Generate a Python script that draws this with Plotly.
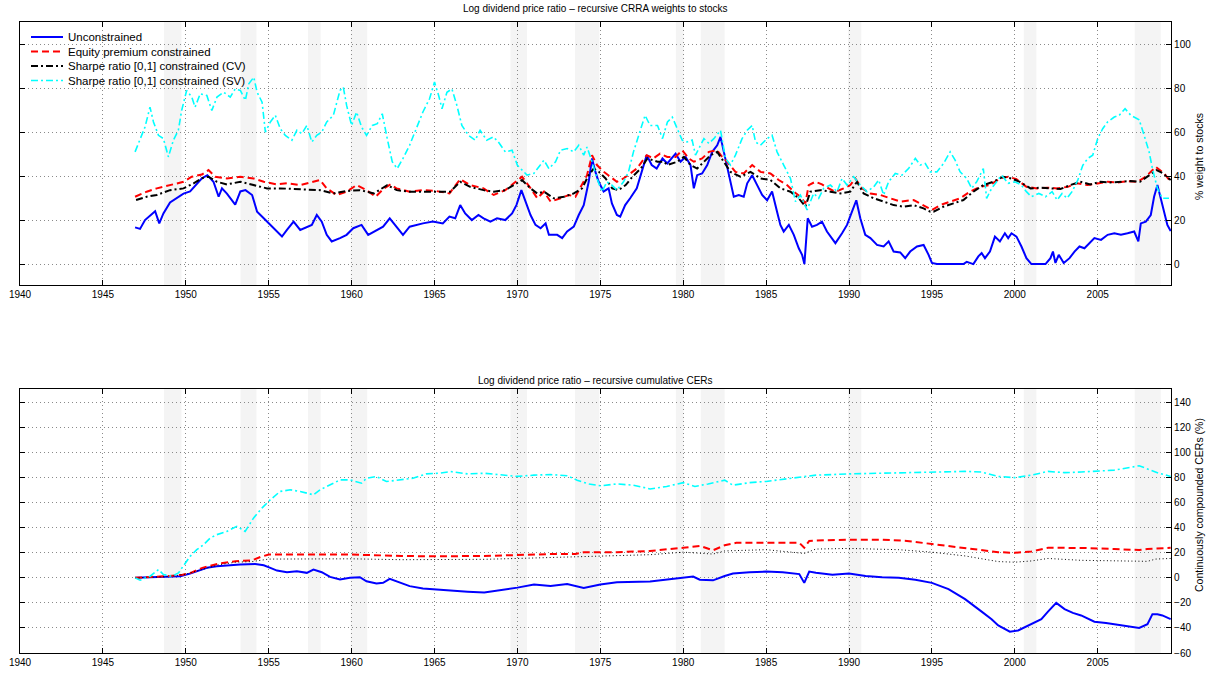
import plotly.graph_objects as go

# ---- top panel: recursive CRRA weights to stocks (%) ----
u_year = [1946.94, 1947.24, 1947.54, 1947.84, 1948.15, 1948.4, 1948.65, 1949.05, 1949.45, 1949.86,
          1950.26, 1950.5, 1950.97, 1951.3, 1951.67, 1951.98, 1952.18, 1952.48, 1952.98, 1953.29,
          1953.6, 1954.0, 1954.3, 1954.7, 1955.1, 1955.5, 1955.8, 1956.1, 1956.5, 1956.9,
          1957.3, 1957.6, 1957.9, 1958.2, 1958.5, 1958.8, 1959.3, 1959.7, 1960.1, 1960.6,
          1961.0, 1961.5, 1961.9, 1962.3, 1962.7, 1963.1, 1963.5, 1963.9, 1964.3, 1964.9,
          1965.5, 1965.9, 1966.25, 1966.55, 1966.85, 1967.25, 1967.65, 1967.96, 1968.37, 1968.77,
          1969.27, 1969.68, 1969.94, 1970.24, 1970.48, 1970.79, 1971.09, 1971.4, 1971.7, 1971.9,
          1972.4, 1972.7, 1973.0, 1973.4, 1973.7, 1974.0, 1974.3, 1974.5, 1974.7, 1974.9,
          1975.2, 1975.5, 1975.7, 1976.0, 1976.2, 1976.5, 1976.8, 1977.2, 1977.5, 1977.8,
          1978.1, 1978.4, 1978.75, 1979.04, 1979.54, 1979.84, 1980.14, 1980.44, 1980.64, 1980.84,
          1981.14, 1981.45, 1981.75, 1982.05, 1982.25, 1982.55, 1982.85, 1983.05, 1983.35, 1983.65,
          1983.86, 1984.16, 1984.46, 1984.76, 1985.06, 1985.36, 1985.66, 1985.86, 1986.06, 1986.37,
          1986.67, 1986.97, 1987.17, 1987.31, 1987.51, 1987.77, 1988.07, 1988.37, 1988.67, 1989.18,
          1989.58, 1989.88, 1990.18, 1990.44, 1990.68, 1990.98, 1991.29, 1991.69, 1992.09, 1992.39,
          1992.69, 1993.09, 1993.39, 1993.69, 1994.1, 1994.5, 1994.8, 1995.0, 1995.3, 1996.9,
          1997.1, 1997.5, 1997.8, 1998.0, 1998.2, 1998.5, 1998.8, 1999.1, 1999.4, 1999.6,
          1999.8, 2000.1, 2000.4, 2000.7, 2001.0, 2001.85, 2002.15, 2002.3, 2002.45, 2002.65,
          2002.95, 2003.3, 2003.6, 2003.9, 2004.2, 2004.5, 2004.8, 2005.2, 2005.6, 2006.0,
          2006.4, 2006.8, 2007.2, 2007.45, 2007.6, 2007.9, 2008.2, 2008.4, 2008.6, 2008.8,
          2009.0, 2009.2, 2009.4]
u_w = [16.7, 16, 20, 22, 24, 18.5, 23, 28, 30, 32,
       33, 35, 39, 40.4, 37.4, 30.6, 34.4, 32, 27, 33,
       33.6, 31.4, 23.8, 20.8, 17.8, 14.8, 12.5, 15.5, 19.3, 15.5,
       17, 17.8, 22.3, 19.3, 13.3, 10.3, 11.8, 13.3, 16.3, 17.8,
       13.3, 15.5, 17, 20.8, 17, 13.3, 17, 17.8, 18.5, 19.3,
       18.5, 21.6, 20.8, 26.8, 23, 20, 22.3, 20.8, 19.3, 20.8,
       20, 23, 26.8, 33.6, 29, 22.3, 17.8, 16.3, 18.5, 13.3,
       13.3, 11.8, 14.8, 17, 22.3, 26.8, 37.4, 48, 42, 37.4,
       33, 34.4, 27.6, 22.3, 21.6, 26.8, 29.9, 34.4, 42, 49.5,
       45, 43.4, 48, 45.7, 50.2, 46.5, 48.7, 45, 34.4, 40.4,
       41.2, 45, 51, 54, 57.8, 48, 37.4, 30.6, 31.4, 30.6,
       36.7, 40.4, 35.9, 31.4, 29, 33, 23.8, 17.8, 14.8, 17.8,
       13.3, 7.2, 4.2, 0, 20.8, 17, 17.8, 19.3, 14.8, 9.5,
       14, 17.8, 23.8, 29, 20.8, 13.3, 11.8, 8.7, 8, 10.3,
       5.7, 5.3, 2.7, 5.7, 8, 8.7, 4.2, 0.5, 0, 0,
       1, 0, 3.5, 5, 2.7, 5.7, 12.5, 10.3, 14, 11.8,
       14, 12.5, 8, 2.7, 0, 0, 2.7, 5.7, 0.5, 4.2,
       0.5, 2.7, 5.7, 8, 7.2, 9.5, 11.8, 11, 13.3, 14,
       13.3, 14, 14.8, 10.3, 18.5, 19.3, 22.3, 30.6, 35.9, 29.9,
       23.8, 17.8, 15]

ep_year = [1946.94, 1947.64, 1948.25, 1949.05, 1949.86, 1950.36, 1950.97, 1951.37, 1951.77, 1952.48,
           1953.29, 1954.09, 1954.7, 1955.5, 1956.1, 1956.9, 1957.7, 1958.1, 1958.5, 1959.1,
           1959.7, 1960.3, 1960.9, 1961.45, 1961.95, 1962.35, 1962.7, 1963.5, 1964.3, 1965.1,
           1965.9, 1966.55, 1967.15, 1967.96, 1968.57, 1969.27, 1969.78, 1970.28, 1970.8, 1971.2,
           1971.6, 1972.0, 1972.6, 1973.1, 1973.5, 1973.9, 1974.2, 1974.5, 1974.8, 1975.2,
           1975.6, 1976.0, 1976.4, 1976.8, 1977.2, 1977.8, 1978.2, 1978.6, 1979.04, 1979.54,
           1979.94, 1980.34, 1980.64, 1981.14, 1981.55, 1982.05, 1982.35, 1982.65, 1983.15, 1983.65,
           1984.16, 1984.66, 1985.26, 1985.76, 1986.26, 1986.67, 1987.07, 1987.37, 1987.57, 1987.97,
           1988.37, 1988.77, 1989.18, 1989.68, 1990.08, 1990.38, 1990.78, 1991.29, 1991.89, 1992.49,
           1993.09, 1993.9, 1994.5, 1995.0, 1995.5, 1996.1, 1996.7, 1997.3, 1997.9, 1998.5,
           1999.1, 1999.6, 2000.1, 2000.7, 2001.35, 2001.95, 2002.55, 2003.2, 2003.75, 2004.4,
           2005.0, 2005.6, 2006.2, 2006.8, 2007.4, 2007.9, 2008.5, 2009.0, 2009.4]
ep_w = [30.6, 32.9, 34.4, 35.9, 37.4, 39.7, 40.7, 42.7, 39.7, 38.9,
        39.7, 38.9, 37.4, 36.2, 36.7, 35.9, 37.4, 38.2, 34.4, 31.4,
        32.9, 35.9, 33.6, 30.6, 34.4, 36.2, 34.4, 32.9, 33.6, 33.2,
        32.1, 38.6, 35.9, 34.4, 31.4, 33.6, 36.7, 39.7, 34.4, 29.9,
        32.9, 28.4, 29.9, 31.4, 30.6, 35.9, 40.4, 49.5, 45, 42,
        39.7, 37.4, 38.9, 41.2, 43.4, 49.5, 48, 50.2, 48.7, 48.7,
        51.7, 48, 46.5, 48, 51, 51.7, 48.7, 46.5, 41.9, 41.2,
        45, 41.9, 41.2, 38.2, 35.9, 32.9, 30.6, 27.6, 35.9, 37.4,
        36.2, 34.4, 32.9, 34.4, 35.9, 38.9, 34.4, 32.1, 31.4, 29.9,
        28.4, 29.1, 26.8, 24.6, 26.8, 28.4, 29.9, 32.9, 35.1, 35.9,
        38.9, 39.7, 38.6, 35.1, 34.4, 34.7, 34.4, 35.1, 36.7, 35.9,
        36.7, 37.4, 37.1, 37.7, 37.4, 39.7, 44.2, 41.2, 37.4]

cv_year = [1947.0, 1947.64, 1948.25, 1949.05, 1949.86, 1950.47, 1950.97, 1951.37, 1951.88, 1952.48,
           1953.29, 1954.09, 1954.9, 1955.7, 1956.5, 1957.3, 1958.1, 1958.9, 1959.7, 1960.5,
           1961.35, 1962.15, 1962.72, 1963.5, 1964.3, 1965.14, 1965.95, 1966.55, 1967.15, 1967.96,
           1968.57, 1969.27, 1969.78, 1970.28, 1970.79, 1971.19, 1971.6, 1972.2, 1972.8, 1973.4,
           1973.9, 1974.3, 1974.6, 1974.9, 1975.32, 1975.72, 1976.1, 1976.53, 1976.94, 1977.44,
           1977.84, 1978.45, 1978.85, 1979.04, 1979.64, 1980.04, 1980.44, 1980.84, 1981.25, 1981.65,
           1982.05, 1982.45, 1982.85, 1983.45, 1984.06, 1984.66, 1985.26, 1985.86, 1986.47, 1986.97,
           1987.37, 1987.67, 1988.27, 1988.88, 1989.48, 1990.08, 1990.48, 1990.88, 1991.49, 1992.09,
           1992.69, 1993.29, 1993.9, 1994.5, 1994.9, 1995.1, 1995.7, 1996.3, 1996.9, 1997.5,
           1998.1, 1998.7, 1999.3, 1999.8, 2000.3, 2000.95, 2001.55, 2002.15, 2002.75, 2003.35,
           2003.95, 2004.55, 2005.15, 2005.75, 2006.35, 2006.95, 2007.55, 2008.15, 2008.55, 2008.95,
           2009.4]
cv_w = [29.1, 30.6, 31.4, 33.6, 34.4, 36.7, 39.0, 39.7, 37.4, 36.2,
        37.4, 35.9, 34.4, 34.4, 34.1, 33.6, 33.6, 32.1, 33.2, 33.6,
        32.1, 35.9, 33.6, 32.9, 32.9, 32.9, 32.9, 37.4, 35.1, 33.6,
        32.9, 33.6, 35.9, 38.2, 34.4, 32.1, 32.9, 29.9, 30.6, 32.1,
        34.4, 40.4, 43.4, 42.0, 38.9, 34.4, 33.6, 35.9, 39.7, 43.4,
        48.0, 46.5, 46.5, 45.0, 46.5, 48.7, 45.0, 43.4, 46.5, 49.5,
        51.0, 46.5, 41.9, 39.7, 41.9, 38.9, 38.2, 34.4, 32.9, 29.9,
        26.1, 32.9, 33.6, 32.9, 32.1, 32.9, 37.4, 32.1, 29.9, 28.4,
        26.8, 26.1, 26.8, 25.3, 23.8, 23.8, 26.1, 27.6, 29.1, 32.9,
        35.9, 37.4, 39.7, 38.9, 37.4, 34.4, 34.7, 34.4, 34.1, 35.9,
        37.4, 36.2, 37.4, 37.1, 37.4, 37.7, 37.4, 40.4, 42.7, 41.2,
        38.2]

sv_year = [1946.94, 1947.24, 1947.54, 1947.84, 1948.05, 1948.35, 1948.65, 1948.95, 1949.25, 1949.55,
           1949.75, 1950.05, 1950.36, 1950.56, 1950.87, 1951.27, 1951.57, 1951.88, 1952.28, 1952.68,
           1952.98, 1953.29, 1953.59, 1953.8, 1954.1, 1954.3, 1954.6, 1954.8, 1955.1, 1955.4,
           1955.7, 1956.0, 1956.4, 1956.7, 1957.0, 1957.3, 1957.6, 1957.9, 1958.2, 1958.5,
           1958.9, 1959.3, 1959.5, 1959.7, 1960.0, 1960.3, 1960.6, 1960.9, 1961.25, 1961.55,
           1961.85, 1962.15, 1962.45, 1962.75, 1963.1, 1963.5, 1963.9, 1964.3, 1964.7, 1965.0,
           1965.25, 1965.45, 1965.75, 1966.05, 1966.35, 1966.65, 1967.05, 1967.45, 1967.75, 1968.15,
           1968.55, 1968.85, 1969.27, 1969.68, 1970.0, 1970.28, 1970.58, 1970.99, 1971.39, 1971.6,
           1971.9, 1972.3, 1972.6, 1973.0, 1973.4, 1973.7, 1974.0, 1974.2, 1974.5, 1974.8,
           1975.1, 1975.4, 1975.7, 1976.0, 1976.4, 1976.7, 1977.0, 1977.3, 1977.7, 1978.0,
           1978.45, 1978.75, 1979.05, 1979.34, 1979.64, 1979.94, 1980.24, 1980.54, 1980.74, 1980.94,
           1981.25, 1981.55, 1981.85, 1982.25, 1982.55, 1982.85, 1983.15, 1983.55, 1983.86, 1984.16,
           1984.36, 1984.66, 1985.06, 1985.36, 1985.66, 1986.06, 1986.47, 1986.77, 1987.07, 1987.47,
           1987.87, 1988.17, 1988.47, 1988.88, 1989.28, 1989.58, 1989.88, 1990.28, 1990.68, 1991.08,
           1991.49, 1991.79, 1992.09, 1992.39, 1992.79, 1993.19, 1993.59, 1994.0, 1994.3, 1994.6,
           1994.9, 1995.3, 1995.7, 1996.1, 1996.4, 1996.7, 1997.1, 1997.4, 1997.7, 1998.1,
           1998.3, 1998.6, 1998.9, 1999.2, 1999.6, 2000.0, 2000.4, 2000.7, 2001.0, 2001.45,
           2001.85, 2002.25, 2002.55, 2002.85, 2003.15, 2003.45, 2003.8, 2004.1, 2004.4, 2004.7,
           2005.0, 2005.3, 2005.6, 2006.0, 2006.3, 2006.65, 2007.0, 2007.5, 2007.8, 2008.1,
           2008.3, 2008.6, 2008.9, 2009.3]
sv_w = [51, 56.3, 62.3, 71.3, 64.6, 58.5, 57, 48.7, 56.3, 60.8,
        69.8, 78.9, 75.9, 71.3, 77.4, 76.6, 69.8, 75.9, 78.1, 75.9,
        79.6, 78.9, 74.4, 81.9, 84.9, 78.1, 73.6, 60, 64.6, 67.6,
        61.5, 58.5, 56.3, 60.8, 59.3, 63, 55.5, 58.5, 60, 64.6,
        67.6, 78.9, 80.4, 72.1, 63, 69.1, 62.3, 58.5, 63, 63.8,
        68.3, 57, 46.5, 43.4, 48, 54, 61.5, 69.1, 75.1, 82.7,
        76.6, 70.6, 78.1, 79.6, 72.1, 63, 58.5, 56.3, 60.8, 56.3,
        57.8, 55.5, 51, 51.7, 44.9, 42.6, 40.4, 41.2, 44.9, 47.2,
        43.4, 46.5, 51.7, 52.5, 51, 54, 49.5, 53.2, 46.5, 38.9,
        32.9, 37.4, 35.9, 33.6, 37.4, 41.9, 51, 58.5, 67.6, 63,
        63, 57, 64.6, 66.8, 61.5, 56.3, 55.5, 56.3, 49.5, 52.5,
        57, 54.8, 57, 60.8, 48, 45, 49.5, 57, 60.8, 63,
        55.5, 54, 57, 58.5, 51, 45, 38.9, 28.4, 31.4, 24.6,
        32.1, 29.9, 34.4, 35.9, 32.9, 38.9, 35.9, 39.7, 35.9, 32.9,
        35.1, 38.2, 31.4, 37.4, 41.2, 40.4, 43.4, 48, 45, 45.7,
        41.9, 41.9, 45.7, 51, 47.2, 41.9, 38.9, 34.4, 37.4, 43.4,
        29.9, 34.4, 37.4, 40.4, 36.7, 37.4, 35.9, 32.9, 30.6, 32.1,
        30.6, 32.9, 29.1, 32.1, 29.9, 32.9, 38.2, 44.9, 48, 49.5,
        57, 61.5, 64.6, 66.8, 67.6, 70.6, 67.6, 65.6, 58.5, 51,
        43.4, 34.4, 29.9, 29.9]

# ---- bottom panel: recursive cumulative CERs (%) ----
uc_year = [1946.94, 1947.85, 1949.26, 1949.66, 1950.26, 1950.87, 1951.27, 1951.87, 1952.47, 1953.28,
           1954.19, 1954.7, 1955.1, 1955.5, 1956.1, 1956.7, 1957.3, 1957.7, 1958.2, 1958.7,
           1959.3, 1959.9, 1960.5, 1960.9, 1961.5, 1961.9, 1962.3, 1962.7, 1963.5, 1964.3,
           1965.15, 1965.96, 1967.0, 1968.0, 1969.0, 1970.0, 1971.0, 1972.0, 1973.0, 1974.0,
           1975.0, 1976.0, 1978.0, 1979.0, 1980.0, 1980.6, 1981.0, 1981.8, 1982.5, 1983.0,
           1984.0, 1985.0, 1986.0, 1987.0, 1987.3, 1987.6, 1988.0, 1989.0, 1990.0, 1991.0,
           1992.0, 1993.0, 1994.0, 1995.0, 1996.0, 1997.0, 1998.0, 1998.6, 1999.0, 1999.7,
           2000.2, 2001.0, 2001.6, 2002.0, 2002.5, 2003.0, 2003.5, 2004.0, 2004.8, 2005.5,
           2006.0, 2006.5, 2007.0, 2007.5, 2008.0, 2008.3, 2008.6, 2008.9, 2009.4]
uc_cer = [0, 0.3, 0.8, 1.3, 3.4, 5.8, 8, 9.3, 10, 10.6,
          11.1, 10, 8, 5.8, 4.5, 5.3, 4, 6.6, 4.5, 0.8,
          -1.3, 0, 0.5, -2.7, -4.5, -4, -0.8, -2.7, -6.6, -8.5,
          -9.3, -10.6, -11, -11.7, -10, -7.8, -5.3, -6.5, -5, -8,
          -5.3, -3.5, -3, -1.5, 0, 1, -1.5, -2, 1.5, 3.5,
          4.5, 5, 4.5, 3, -4, 5, 4, 2.5, 3.5, 1.5,
          0.5, 0, -1.5, -4, -9, -17, -27, -33, -38, -43,
          -42, -37, -33, -27, -20, -25, -28, -30, -35, -36,
          -37, -38, -39, -40, -37, -29, -29, -30, -33]

epc_year = [1946.94, 1948.0, 1949.0, 1949.8, 1950.3, 1951.0, 1952.0, 1953.0, 1954.0, 1954.5,
            1955.0, 1957.0, 1960.0, 1963.0, 1965.0, 1968.0, 1970.0, 1972.0, 1973.5, 1974.0,
            1976.0, 1978.0, 1980.0, 1981.0, 1981.8, 1982.5, 1983.2, 1985.0, 1987.0, 1987.3,
            1987.6, 1988.5, 1990.0, 1992.0, 1993.5, 1995.0, 1996.0, 1997.0, 1998.0, 1999.0,
            2000.0, 2001.0, 2002.0, 2003.0, 2004.0, 2006.0, 2007.5, 2008.0, 2009.1, 2009.4]
epc_cer = [0, 0.5, 1.5, 2.5, 4, 8, 11.4, 13.3, 14, 16.7,
           18.6, 18.6, 18.6, 17.5, 17.2, 17.5, 18.5, 19, 19, 20.5,
           20.5, 21.5, 24, 25.5, 22, 26, 28, 28, 28, 24,
           29.5, 30, 30.5, 30.5, 29.5, 27, 25.5, 24, 22, 20.5,
           20, 21, 24, 24, 23.9, 23, 22.3, 23, 24, 24]

cvc_year = [1946.94, 1948.0, 1949.0, 1950.0, 1951.0, 1952.0, 1953.0, 1954.0, 1955.0, 1957.0,
            1960.0, 1963.0, 1965.0, 1968.0, 1970.0, 1973.0, 1975.0, 1978.0, 1980.0, 1981.8,
            1982.5, 1985.0, 1987.3, 1988.0, 1990.0, 1993.0, 1995.0, 1997.0, 1999.0, 2000.0,
            2001.0, 2002.0, 2004.0, 2006.0, 2008.0, 2008.5, 2009.4]
cvc_cer = [0, 0.3, 1, 3, 7, 10.5, 12.5, 13, 15, 15.2,
           15.2, 14.5, 14.5, 14.8, 15.5, 16.5, 17, 18.5, 20.5, 19,
           21.5, 22.5, 19.5, 23, 23.5, 22.5, 20.5, 17.5, 13, 12.5,
           13.5, 15.5, 14, 13.5, 13.2, 15, 15.5]

svc_year = [1946.94, 1947.24, 1947.85, 1948.35, 1948.65, 1949.15, 1949.56, 1949.86, 1950.26, 1950.66,
            1951.07, 1951.47, 1951.87, 1952.47, 1953.08, 1953.58, 1954.08, 1954.59, 1955.09, 1955.69,
            1956.3, 1956.9, 1957.7, 1958.1, 1958.71, 1959.3, 1959.9, 1960.6, 1960.9, 1961.5,
            1962.1, 1962.9, 1963.7, 1964.5, 1965.35, 1965.96, 1967.0, 1968.0, 1969.0, 1970.0,
            1971.0, 1972.0, 1973.0, 1973.6, 1974.3, 1975.0, 1976.0, 1977.0, 1978.0, 1979.0,
            1980.0, 1980.7, 1981.5, 1982.5, 1983.0, 1984.0, 1985.0, 1986.0, 1987.0, 1988.0,
            1990.0, 1992.0, 1995.0, 1997.0, 1998.0, 1999.0, 2000.0, 2001.0, 2002.0, 2003.0,
            2004.0, 2005.0, 2006.0, 2007.5, 2008.0, 2008.6, 2009.4]
svc_cer = [0, -1.9, 1.3, 6.6, 2.7, 1.3, 4, 9.3, 17.2, 22.5,
           26.5, 31.8, 34.5, 37.1, 41.1, 37.1, 47.7, 55.7, 62.3, 69,
           70.3, 69, 66.3, 70.3, 74.3, 78.2, 78.2, 75.6, 79.6, 80.9,
           76.9, 78.2, 79.6, 83, 83.6, 84.9, 83, 83.5, 82.5, 81,
           82, 82.5, 81.5, 78, 75, 73.5, 75, 74, 71, 73,
           76, 73, 75, 78, 74, 76, 77, 78.5, 80, 82,
           83, 83.5, 84, 85, 84.5, 81, 80, 82, 85, 84,
           84.5, 85, 86, 89.5, 87, 84, 81]

# shaded recession periods (start, end) as drawn
rec_start = [1948.69, 1953.30, 1957.37, 1959.94, 1969.58, 1973.47, 1979.56, 1981.06, 1989.94, 2000.54, 2007.23]
rec_end = [1949.74, 1954.26, 1958.13, 1960.94, 1970.58, 1974.94, 1980.02, 1982.50, 1990.74, 2001.30, 2008.80]

names = ['Unconstrained', 'Equity premium constrained',
         'Sharpe ratio [0,1] constrained (CV)', 'Sharpe ratio [0,1] constrained (SV)']

FONT = 'Liberation Sans, Arial, Helvetica, sans-serif'
BLUE = dict(color='#0000ff', width=2)
RED = dict(color='#ff0000', width=2, dash='7px,4px')
BLACK = dict(color='#000000', width=2, dash='7px,3px,2px,3px')
CYAN = dict(color='#00ffff', width=1.6, dash='7px,3px,2px,3px')

fig = go.Figure()

# top panel
fig.add_trace(go.Scatter(x=u_year, y=u_w, name=names[0], mode='lines', line=BLUE, xaxis='x', yaxis='y'))
fig.add_trace(go.Scatter(x=ep_year, y=ep_w, name=names[1], mode='lines', line=RED, xaxis='x', yaxis='y'))
fig.add_trace(go.Scatter(x=cv_year, y=cv_w, name=names[2], mode='lines', line=BLACK, xaxis='x', yaxis='y'))
fig.add_trace(go.Scatter(x=sv_year, y=sv_w, name=names[3], mode='lines', line=CYAN, xaxis='x', yaxis='y'))

# bottom panel
fig.add_trace(go.Scatter(x=uc_year, y=uc_cer, name=names[0], mode='lines', line=BLUE, xaxis='x2', yaxis='y2'))
fig.add_trace(go.Scatter(x=epc_year, y=epc_cer, name=names[1], mode='lines', line=RED, xaxis='x2', yaxis='y2'))
fig.add_trace(go.Scatter(x=cvc_year, y=cvc_cer, name=names[2], mode='lines',
                         line=dict(color='#000000', width=1, dash='1px,2.5px'), xaxis='x2', yaxis='y2'))
fig.add_trace(go.Scatter(x=svc_year, y=svc_cer, name=names[3], mode='lines', line=CYAN, xaxis='x2', yaxis='y2'))
fig.update_traces(showlegend=False)

shapes = []
for a, b in zip(rec_start, rec_end):
    for xr, yr in (('x', 'y domain'), ('x2', 'y2 domain')):
        shapes.append(dict(type='rect', xref=xr, yref=yr, x0=a, x1=b, y0=0, y1=1,
                           fillcolor='#f4f4f4', line_width=0, layer='below'))

# pixel geometry of the plot area (figure 1209 x 673)
L, R, T, B = 20, 1171, 22, 653
def px(x):
    return (x - L) / (R - L)
def py(y):
    return (B - y) / (B - T)

# legend drawn in the top-left corner, as in the original
annotations = []
legend_rows = [37, 51.5, 66, 80.5]
for name, ln, yy in zip(names, [BLUE, RED, BLACK, CYAN], legend_rows):
    shapes.append(dict(type='line', xref='paper', yref='paper', x0=px(31), x1=px(63),
                       y0=py(yy), y1=py(yy), line=ln, layer='above'))
    annotations.append(dict(text=name, xref='paper', yref='paper', x=px(66), y=py(yy),
                            xanchor='left', yanchor='middle', showarrow=False,
                            font=dict(size=11.5, color='black')))

annotations += [
    dict(text='Log dividend price ratio \u2013 recursive CRRA weights to stocks',
         xref='paper', yref='paper', x=0.5, y=py(9), showarrow=False,
         xanchor='center', yanchor='middle', font=dict(size=10)),
    dict(text='Log dividend price ratio \u2013 recursive cumulative CERs',
         xref='paper', yref='paper', x=0.5, y=py(380), showarrow=False,
         xanchor='center', yanchor='middle', font=dict(size=10)),
    dict(text='% weight to stocks', xref='paper', yref='paper', x=px(1199), y=py(156),
         textangle=-90, showarrow=False, xanchor='center', yanchor='middle', font=dict(size=10.5)),
    dict(text='Continuously compounded CERs (%)', xref='paper', yref='paper', x=px(1199), y=py(505),
         textangle=-90, showarrow=False, xanchor='center', yanchor='middle', font=dict(size=10.5)),
]

axis_common = dict(showline=True, linecolor='black', linewidth=1.2, mirror='ticks',
                   ticks='inside', ticklen=5, tickcolor='black',
                   showgrid=True, gridcolor='#8a8a8a', griddash='1px,3px', gridwidth=1,
                   zeroline=False, tickfont=dict(size=10, color='black'), automargin=False)

top_dom = [py(285), 1.0]
bot_dom = [0.0, py(389)]

fig.update_layout(
    width=1209, height=673,
    margin=dict(l=L, r=1209 - R, t=T, b=673 - B),
    paper_bgcolor='white', plot_bgcolor='white',
    font=dict(family=FONT, size=10, color='black'),
    shapes=shapes, annotations=annotations, showlegend=False,
    xaxis=dict(axis_common, domain=[0, 1], range=[1940, 2009.42], tick0=1940, dtick=5, anchor='y'),
    yaxis=dict(axis_common, domain=top_dom, range=[-9.5, 110], tickmode='array',
               tickvals=[0, 20, 40, 60, 80, 100], side='right', anchor='x'),
    xaxis2=dict(axis_common, domain=[0, 1], range=[1940, 2009.42], tick0=1940, dtick=5, anchor='y2'),
    yaxis2=dict(axis_common, domain=bot_dom, range=[-60, 150.8], tickmode='array',
                tickvals=[-60, -40, -20, 0, 20, 40, 60, 80, 100, 120, 140], side='right', anchor='x2'),
)

fig.write_html("out.html", config={'displayModeBar': False},
               post_script="document.body.style.margin='0';")
